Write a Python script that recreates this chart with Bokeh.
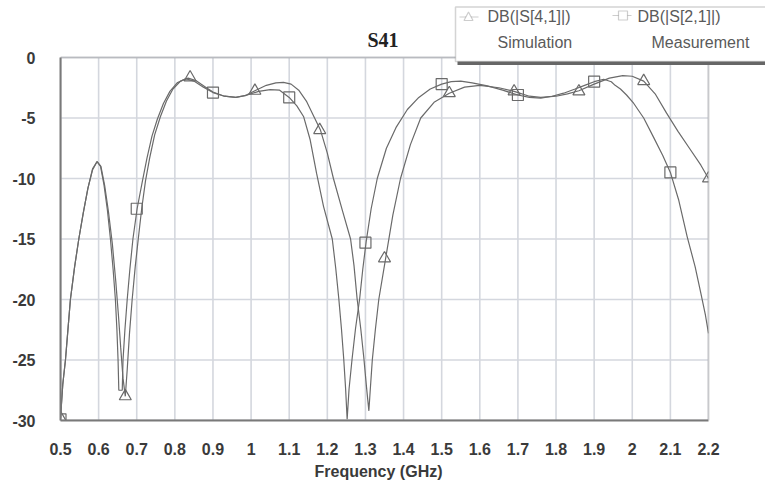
from bokeh.plotting import figure
from bokeh.models import Range1d, FixedTicker, PolyAnnotation, Label, Title
from bokeh.embed import file_html
from bokeh.resources import INLINE

# ---------------- data ----------------
sim_f = [0.500, 0.506, 0.513, 0.520, 0.526, 0.537, 0.548, 0.560, 0.572, 0.584,
         0.596, 0.606, 0.616, 0.626, 0.636, 0.645, 0.652, 0.658, 0.664, 0.670,
         0.675, 0.681, 0.688, 0.696, 0.704, 0.713, 0.723, 0.734, 0.747, 0.762,
         0.778, 0.795, 0.815, 0.835, 0.855, 0.878, 0.900, 0.930, 0.960, 0.985,
         1.010, 1.040, 1.065, 1.085, 1.105, 1.125, 1.145, 1.165, 1.182, 1.200,
         1.216, 1.240, 1.261, 1.270, 1.278, 1.288, 1.296, 1.303, 1.309, 1.313,
         1.318, 1.326, 1.335, 1.353, 1.372, 1.392, 1.418, 1.445, 1.480, 1.520,
         1.560, 1.600, 1.650, 1.690, 1.730, 1.760, 1.800, 1.830, 1.860, 1.900,
         1.940, 1.975, 2.000, 2.030, 2.060, 2.090, 2.120, 2.150, 2.180, 2.200]
sim_db = [-29.8, -27.0, -25.0, -22.3, -20.0, -17.3, -15.0, -12.8, -10.8, -9.3,
          -8.6, -9.0, -10.6, -12.8, -15.4, -18.5, -21.3, -24.0, -26.5, -28.0,
          -25.8, -22.8, -20.0, -17.3, -15.0, -12.5, -10.2, -8.3, -6.4, -4.9,
          -3.6, -2.6, -1.95, -1.7, -1.9, -2.4, -2.85, -3.2, -3.3, -3.15,
          -2.75, -2.3, -2.1, -2.05, -2.2, -2.7, -3.6, -4.9, -6.0, -7.9,
          -10.0, -12.7, -15.0, -17.2, -19.9, -22.5, -24.9, -27.3, -29.2, -27.3,
          -25.0, -22.5, -20.0, -16.6, -13.0, -10.0, -7.2, -5.0, -3.7, -2.95,
          -2.45, -2.3, -2.5, -2.8, -3.2, -3.3, -3.2, -3.0, -2.75, -2.2,
          -1.7, -1.5, -1.55, -1.95, -3.0, -4.6, -6.1, -7.5, -8.9, -10.0]

meas_f = [0.500, 0.506, 0.513, 0.520, 0.526, 0.537, 0.548, 0.560, 0.572, 0.584,
          0.596, 0.605, 0.614, 0.623, 0.631, 0.638, 0.644, 0.648, 0.651, 0.653,
          0.662, 0.664, 0.669, 0.675, 0.682, 0.690, 0.701, 0.715, 0.727, 0.740,
          0.754, 0.770, 0.787, 0.806, 0.828, 0.850, 0.875, 0.900, 0.930, 0.960,
          0.990, 1.020, 1.050, 1.075, 1.100, 1.120, 1.138, 1.155, 1.172, 1.190,
          1.213, 1.222, 1.230, 1.237, 1.243, 1.248, 1.252, 1.257, 1.265, 1.274,
          1.285, 1.293, 1.302, 1.315, 1.331, 1.355, 1.380, 1.410, 1.440, 1.470,
          1.500, 1.525, 1.550, 1.580, 1.620, 1.660, 1.700, 1.730, 1.760, 1.790,
          1.820, 1.850, 1.875, 1.900, 1.925, 1.945, 1.955, 1.969, 1.985, 2.004,
          2.030, 2.056, 2.080, 2.100, 2.122, 2.144, 2.165, 2.180, 2.192, 2.200]
meas_db = [-29.9, -27.0, -25.0, -22.3, -20.0, -17.3, -15.0, -12.8, -10.8, -9.2,
           -8.6, -9.0, -10.5, -12.6, -15.0, -17.5, -20.0, -22.5, -25.0, -27.5,
           -27.5, -25.0, -22.5, -20.0, -17.5, -15.0, -12.5, -10.2, -8.3, -6.5,
           -5.1, -3.8, -2.8, -2.1, -1.75, -1.95, -2.45, -2.9, -3.2, -3.3,
           -3.1, -2.8, -2.65, -2.7, -3.3, -4.0, -4.9, -6.8, -9.6, -12.3,
           -15.0, -17.4, -19.9, -22.4, -24.9, -27.4, -29.9, -27.4, -24.9, -22.4,
           -19.9, -17.5, -15.2, -12.5, -10.0, -7.5, -5.8, -4.3, -3.3, -2.6,
           -2.2, -2.0, -1.95, -2.1, -2.35, -2.7, -3.1, -3.3, -3.35, -3.2,
           -2.95, -2.6, -2.3, -2.0, -1.8, -2.0, -2.3, -2.6, -3.1, -3.8,
           -5.0, -6.6, -8.1, -9.5, -11.8, -14.8, -17.3, -19.5, -21.3, -22.8]

sim_marker_f = [0.50, 0.67, 0.84, 1.01, 1.18, 1.35, 1.52, 1.69, 1.86, 2.03, 2.20]
sim_marker_db = [-29.8, -28.0, -1.65, -2.75, -6.0, -16.6, -2.95, -2.8, -2.8, -1.95, -10.0]

meas_marker_f = [0.5, 0.7, 0.9, 1.1, 1.3, 1.5, 1.7, 1.9, 2.1]
meas_marker_db = [-29.9, -12.5, -2.9, -3.3, -15.3, -2.2, -3.1, -2.0, -9.5]

x_min, x_max = 0.5, 2.2
y_min, y_max = -30, 0
x_ticks = [0.5, 0.6, 0.7, 0.8, 0.9, 1.0, 1.1, 1.2, 1.3, 1.4, 1.5, 1.6, 1.7, 1.8,
           1.9, 2.0, 2.1, 2.2]
x_tick_labels = ["0.5", "0.6", "0.7", "0.8", "0.9", "1", "1.1", "1.2", "1.3", "1.4",
                 "1.5", "1.6", "1.7", "1.8", "1.9", "2", "2.1", "2.2"]
y_ticks = [0, -5, -10, -15, -20, -25, -30]
y_tick_labels = ["0", "-5", "-10", "-15", "-20", "-25", "-30"]

title_text = "S41"
x_label = "Frequency (GHz)"
legend_names = ["DB(|S[4,1]|)", "DB(|S[2,1]|)"]
legend_sub = ["Simulation", "Measurement"]

# ---------------- layout ----------------
W, H = 765, 487
PL, PT, PR, PB = 60, 57, 708, 420     # data-area edges in canvas px
ppx = (PR - PL) / (x_max - x_min)
ppy = (PB - PT) / (y_max - y_min)
x_end = x_min + (W - PL) / ppx
y_end = y_max + PT / ppy

# the frame covers everything right of the y axis and above the x axis, so
# the title and the legend can sit inside it
p = figure(width=W, height=H, output_backend="svg", toolbar_location=None,
           title=None,
           x_range=Range1d(x_min, x_end), y_range=Range1d(y_min, y_end),
           min_border_left=PL, min_border_top=0,
           min_border_right=0, min_border_bottom=H - PB)
p.outline_line_color = None
p.background_fill_color = "white"
p.border_fill_color = "white"
for g in p.grid:
    g.visible = False
    g.grid_line_color = None

def fx(px):
    return x_min + (px - PL) / ppx

def fy(py):
    return y_max - (py - PT) / ppy

label_col = "#3a3a3a"
for ax in (p.xaxis[0], p.yaxis[0]):
    ax.axis_line_color = "#7a7a7a"
    ax.axis_line_width = 2
    ax.major_tick_line_color = None
    ax.minor_tick_line_color = None
    ax.major_tick_out = 0
    ax.major_tick_in = 0
    ax.major_label_text_font = "Liberation Sans"
    ax.major_label_text_font_style = "bold"
    ax.major_label_text_font_size = "16px"
    ax.major_label_text_color = label_col

p.xaxis.bounds = (x_min, x_max)
p.xaxis.ticker = FixedTicker(ticks=x_ticks)
p.xaxis.major_label_overrides = {t: l for t, l in zip(x_ticks, x_tick_labels)}
p.xaxis.major_label_standoff = 22

# x-axis title, centred under the data area (not under the wider frame)
p.add_layout(Title(text=x_label, align="left", offset=378 - PL - 64, standoff=7,
                   text_font="Liberation Sans", text_font_style="bold",
                   text_font_size="16px", text_color=label_col), "below")

p.yaxis.bounds = (y_min, y_max)
p.yaxis.ticker = FixedTicker(ticks=y_ticks)
p.yaxis.major_label_overrides = {t: l for t, l in zip(y_ticks, y_tick_labels)}
p.yaxis.major_label_standoff = 25

# grid lines, limited to the data area
grid_col = "#d4d7de"
p.segment(x0=x_ticks, y0=[y_min] * len(x_ticks), x1=x_ticks, y1=[y_max] * len(x_ticks),
          line_color=grid_col, line_width=1.6)
p.segment(x0=[x_min] * len(y_ticks), y0=y_ticks, x1=[x_max] * len(y_ticks), y1=y_ticks,
          line_color=grid_col, line_width=1.6)

curve_col = "#6a6a6a"
p.line(sim_f, sim_db, line_color=curve_col, line_width=1.2)
p.line(meas_f, meas_db, line_color=curve_col, line_width=1.2)
p.scatter(sim_marker_f, sim_marker_db, marker="triangle", size=12,
          fill_color=None, line_color=curve_col, line_width=1.2)
p.scatter(meas_marker_f, meas_marker_db, marker="square", size=11,
          fill_color=None, line_color=curve_col, line_width=1.2)

def rect(l, r, t, b, **kw):
    return PolyAnnotation(xs=[fx(l), fx(r), fx(r), fx(l)], ys=[fy(t), fy(t), fy(b), fy(b)], **kw)

# white mask right of the data area (cuts the marker at the right edge)
p.add_layout(rect(PR, W + 20, PT, PB + 20, fill_color="white", fill_alpha=1,
                  line_color=None))
# data-area border
p.add_layout(rect(PL, PR, PT, PB, fill_alpha=0, line_color="#7a7a7a", line_width=2))

# chart title
p.add_layout(Label(x=fx(382.5), y=fy(39.5), text=title_text, text_align="center",
                   text_baseline="middle", text_font="Liberation Serif",
                   text_font_style="bold", text_font_size="20px", text_color="#222222"))

# legend box with shadow
p.add_layout(rect(457, W + 20, 60, 64.5, fill_color="#666666", fill_alpha=1,
                  line_color=None))
p.add_layout(rect(455, W + 20, 6.5, 61, fill_color="white", fill_alpha=1,
                  line_color="#707070", line_width=1.5))

leg_col = "#5a5a5a"
# entry 1: line + triangle
p.add_layout(PolyAnnotation(xs=[fx(459), fx(478)], ys=[fy(16.5), fy(16.5)],
                            fill_alpha=0, line_color=leg_col, line_width=1.2))
p.add_layout(PolyAnnotation(xs=[fx(463.5), fx(472.5), fx(468)],
                            ys=[fy(20), fy(20), fy(11.5)],
                            fill_color="white", fill_alpha=1, line_color=leg_col, line_width=1.2))
# entry 2: line + square
p.add_layout(PolyAnnotation(xs=[fx(612), fx(631)], ys=[fy(15), fy(15)],
                            fill_alpha=0, line_color=leg_col, line_width=1.2))
p.add_layout(rect(618, 627, 10.5, 19.5, fill_color="white", fill_alpha=1,
                  line_color=leg_col, line_width=1.2))

for name, sub, xn, xs_ in zip(legend_names, legend_sub, [487, 637], [497, 651]):
    p.add_layout(Label(x=fx(xn), y=fy(16), text=name, text_align="left",
                       text_baseline="middle", text_font="Liberation Sans",
                       text_font_size="16px", text_color=leg_col))
    p.add_layout(Label(x=fx(xs_), y=fy(42), text=sub, text_align="left",
                       text_baseline="middle", text_font="Liberation Sans",
                       text_font_size="16px", text_color=leg_col))

open("out.html", "w").write(file_html(p, INLINE))
